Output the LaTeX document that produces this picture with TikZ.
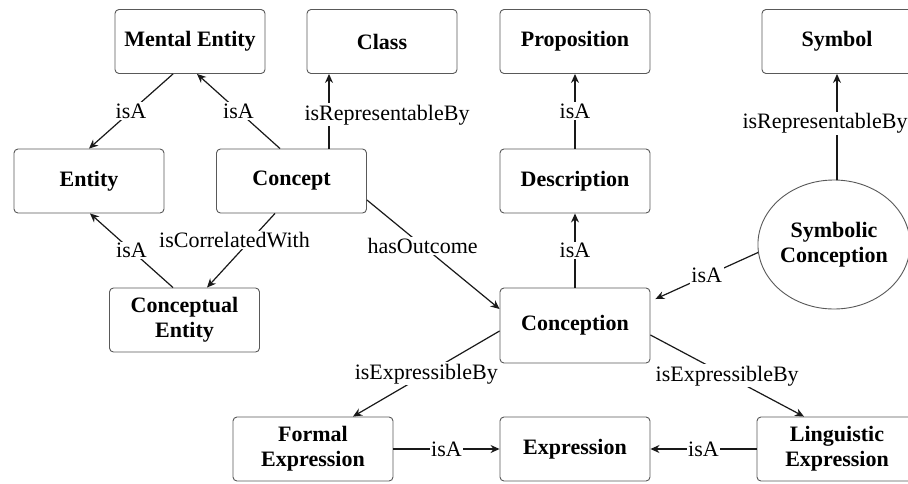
\documentclass[tikz,border=0pt]{standalone}
\usepackage{fontspec}
\setmainfont{Liberation Serif}
\usetikzlibrary{arrows.meta,shapes.geometric,calc}
\begin{document}
\begin{tikzpicture}[x=1pt,y=-1pt,
  boxfont/.style={font=\fontsize{22}{25}\selectfont\bfseries},
  box/.style={boxfont, draw=black!65, rounded corners=4pt, line width=0.9pt,
    minimum width=150pt, minimum height=64pt, align=center, inner sep=0pt},
  rel/.style={line width=1.2pt, draw=black!90},
  arr/.style={rel, -{Stealth[length=9pt,width=8pt]}},
  lab/.style={fill=white, inner sep=1.5pt, font=\fontsize{22}{25}\selectfont}
]
\useasboundingbox (0,0) rectangle (908,483);
\clip (0,0) rectangle (908,483);
\fill[white] (0,0) rectangle (908,483);

\node[box] (ME) at (190,41.5) {Mental Entity};
\node[box] (Class) at (382,41.5) {Class};
\node[box] (Prop) at (575,41.5) {Proposition};
\node[box] (Sym) at (837,41.5) {Symbol};
\node[box] (Ent) at (89,181) {Entity};
\node[box] (Concept) at (291.5,181) {Concept};
\node[box] (Desc) at (575,181) {Description};
\node[boxfont, draw=black!65, line width=0.9pt, ellipse, minimum width=146pt, minimum height=129pt,
  inner sep=0pt, align=center] (SC) at (834,244.5) {Symbolic\\Conception};
\node[box] (CE) at (184.5,320) {Conceptual\\Entity};
\node[box, minimum height=75pt] (Con) at (575,325.5) {Conception};
\node[box, minimum width=160pt] (FE) at (313,449) {Formal\\Expression};
\node[box] (Expr) at (575,449) {Expression};
\node[box, minimum width=160pt] (LE) at (837,449) {Linguistic\\Expression};

\draw[arr] ([xshift=-17pt]ME.south) -- node[lab]{isA} (Ent.north);
\draw[arr] ([xshift=-11.5pt]Concept.north) -- node[lab]{isA} ([xshift=7pt]ME.south);
\coordinate (c1) at ([xshift=37.5pt]Concept.north);
\draw[arr] (c1) -- node[lab, pos=0.45, xshift=58pt]{isRepresentableBy} (c1 |- Class.south);
\draw[arr] ([xshift=-11.5pt]CE.north) -- node[lab]{isA} ([xshift=1pt]Ent.south);
\draw[arr] ([xshift=-16.5pt]Concept.south) -- node[lab, pos=0.36, xshift=-16pt]{isCorrelatedWith} ([xshift=22.5pt]CE.north);
\draw[arr] ([yshift=-19pt]Concept.east) -- node[lab, pos=0.42]{hasOutcome} ([yshift=16.5pt]Con.west);
\draw[arr] (Desc) -- node[lab]{isA} (Prop);
\draw[arr] (Con) -- node[lab]{isA} (Desc);
\draw[arr] (SC.186) -- node[lab]{isA} ([xshift=5pt,yshift=26.5pt]Con.east);
\coordinate (c2) at ([xshift=3pt]SC.north);
\draw[arr] (c2) -- node[lab, pos=0.53, xshift=-12pt]{isRepresentableBy} (c2 |- Sym.south);
\draw[arr] ([yshift=-5.5pt]Con.west) -- node[lab]{isExpressibleBy} ([xshift=40pt]FE.north);
\draw[arr] ([yshift=-9.5pt]Con.east) -- node[lab]{isExpressibleBy} ([xshift=-33pt]LE.north);
\draw[arr] (FE) -- node[lab]{isA} (Expr);
\draw[arr] (LE) -- node[lab]{isA} (Expr);
\end{tikzpicture}
\end{document}
